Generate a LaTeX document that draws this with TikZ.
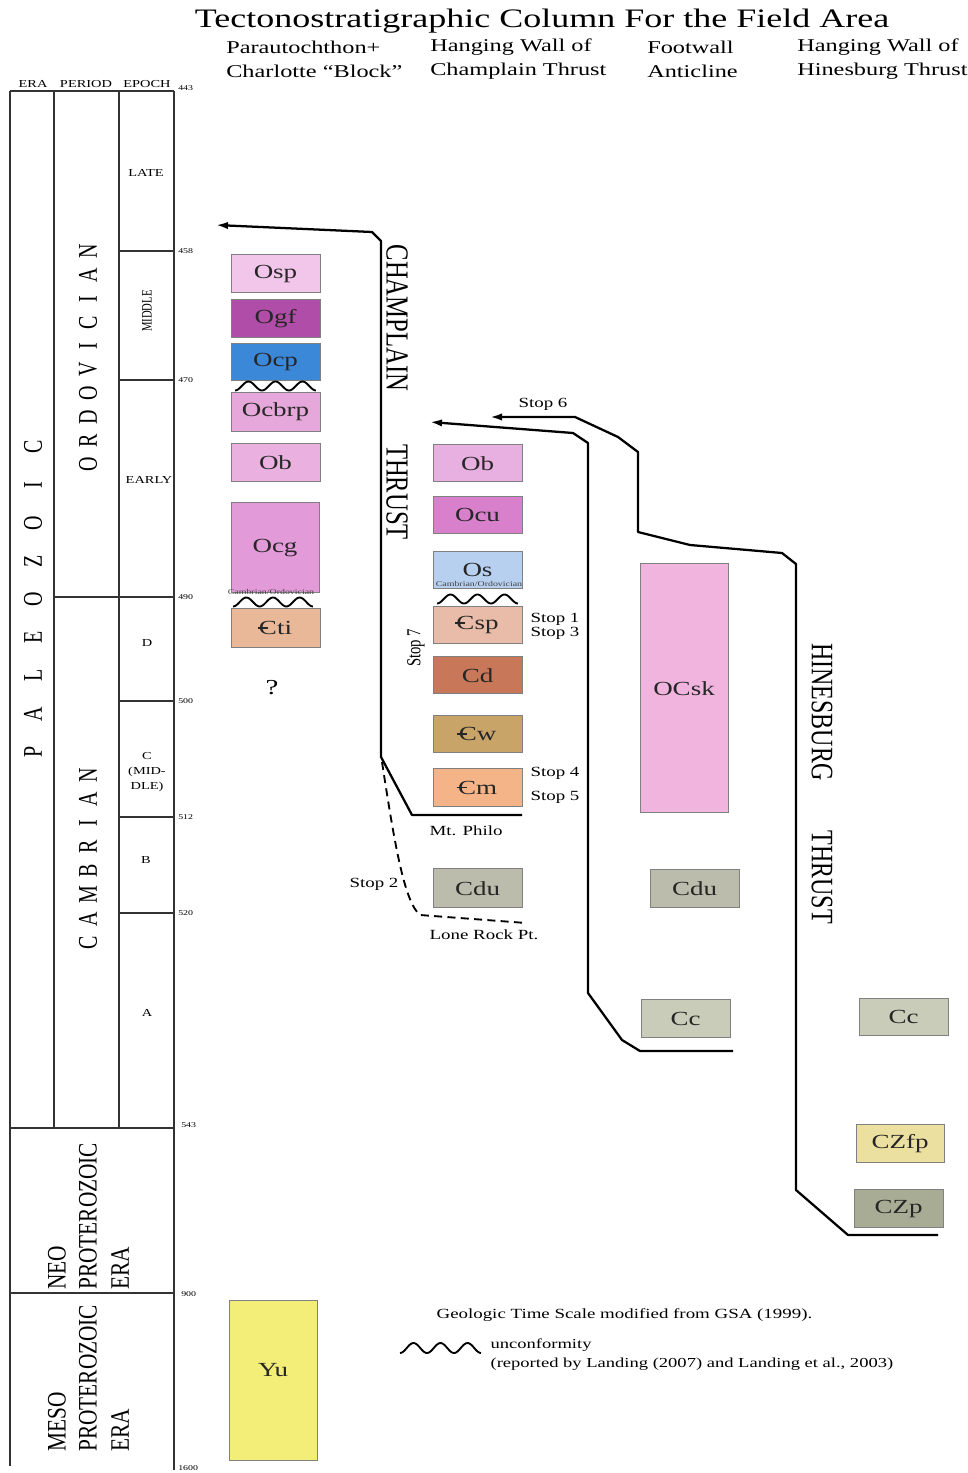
\documentclass[tikz,border=0pt]{standalone}
\usepackage{fontspec}
\usepackage{graphicx}
\setmainfont{Liberation Serif}[FakeStretch=1.35]
\newfontfamily\rf{Liberation Serif}
\usetikzlibrary{arrows.meta,fit}
\definecolor{cOsp}{HTML}{F2C6EA}
\definecolor{cOgf}{HTML}{B04DA8}
\definecolor{cOcp}{HTML}{3C88D8}
\definecolor{cOcbrp}{HTML}{E6A8DA}
\definecolor{cObA}{HTML}{EAB0E0}
\definecolor{cOcg}{HTML}{E29AD8}
\definecolor{cCti}{HTML}{E8B898}
\definecolor{cObB}{HTML}{E8B0E0}
\definecolor{cOcu}{HTML}{D880CC}
\definecolor{cOs}{HTML}{B8D0F0}
\definecolor{cCsp}{HTML}{E8BCA8}
\definecolor{cCd}{HTML}{C87858}
\definecolor{cCw}{HTML}{C8A468}
\definecolor{cCm}{HTML}{F4B488}
\definecolor{cCdu}{HTML}{BCBCAC}
\definecolor{cOCsk}{HTML}{F0B4DE}
\definecolor{cCc}{HTML}{C8CCB8}
\definecolor{cCZfp}{HTML}{ECE0A0}
\definecolor{cCZp}{HTML}{A8AC94}
\definecolor{cYu}{HTML}{F2EE78}
\newcommand\Cb{\makebox[0pt][l]{\kern-0.07em\rule[0.3em]{0.5em}{0.07em}}C}
\newcommand\ubox[7]{\node[unit, fill=#6, fit={(#2,#3) (#4,#5)}] (#1) {};
  \node[ulabel] (#1l) at (#1.center) {#7};}
\newcommand\wave[5]{\draw[wavy] plot[domain=0:1,samples=60,smooth] ({#1+(#2-#1)*\x},{#3+#5*cos(#4*360*\x)});}
\begin{document}
\begin{tikzpicture}[x=0.75pt,y=-0.75pt,
  unit/.style={draw=black!50, line width=0.5pt, inner sep=0pt},
  ulabel/.style={inner sep=0pt, text=black!85, font=\fontsize{15}{16}\selectfont, yshift=-0.5pt},
  tsline/.style={draw=black!80, line width=0.9pt},
  thrust/.style={draw=black, line width=1.7pt, line join=round},
  tip/.style={-{Latex[length=9pt,width=5.5pt]}},
  wavy/.style={draw=black, line width=1.4pt},
  small/.style={font=\fontsize{10.5}{12}\selectfont, inner sep=1pt},
  tick/.style={font=\fontsize{5.5}{6}\selectfont, anchor=west, inner sep=0pt},
  epo/.style={font=\fontsize{8}{9}\selectfont, inner sep=0pt},
  rot/.style={font=\rf\fontsize{#1}{#1}\selectfont, inner sep=0pt},
  tiny/.style={font=\fontsize{5.5}{6}\selectfont, inner sep=0pt, text=black!75}]
\useasboundingbox (0,0) rectangle (967,1473);

% ---------- headings ----------
\node[font=\fontsize{20}{22}\selectfont] (title) at (542,21) {Tectonostratigraphic Column For the Field Area};
\begin{scope}[every node/.style={font=\fontsize{13.5}{15}\selectfont, anchor=west, inner sep=0pt}]
\node (h1a) at (226,47) {Parautochthon+};
\node (h1b) at (226,71) {Charlotte “Block”};
\node (h2a) at (430,47) {Hanging Wall of};
\node (h2b) at (430,71) {Champlain Thrust};
\node (h3a) at (647,47) {Footwall};
\node (h3b) at (647,71) {Anticline};
\node (h4a) at (797,47) {Hanging Wall of};
\node (h4b) at (797,71) {Hinesburg Thrust};
\end{scope}

% ---------- time scale ----------
\node[epo] (hera) at (33,84) {ERA};
\node[epo] (hper) at (86,84) {PERIOD};
\node[epo] (hepo) at (147,84) {EPOCH};
\draw[tsline] (10,91) -- (174,91);
\draw[tsline] (10,91) -- (10,1466);
\draw[tsline] (174,91) -- (174,1470);
\draw[tsline] (54,91) -- (54,1128);
\draw[tsline] (119,91) -- (119,1128);
\draw[tsline] (10,1128) -- (174,1128);
\draw[tsline] (10,1293) -- (174,1293);
\draw[tsline] (54,597) -- (174,597);
\foreach \yy in {251,380,701,817,913} \draw[tsline] (119,\yy) -- (174,\yy);
\node[tick] (t443) at (178,88) {443};
\node[tick] (t458) at (178,251) {458};
\node[tick] (t470) at (178,380) {470};
\node[tick] (t490) at (178,597) {490};
\node[tick] (t500) at (178,701) {500};
\node[tick] (t512) at (178,817) {512};
\node[tick] (t520) at (178,913) {520};
\node[tick] (t543) at (181,1125) {543};
\node[tick] (t900) at (181,1294) {900};
\node[tick] (t1600) at (178,1468) {1600};

\node[epo] (eLate) at (146,173) {LATE};
\node[epo, rotate=90, font=\rf\fontsize{8}{9}\selectfont] (eMid) at (147,311) {\scalebox{1}[1.35]{MIDDLE}};
\node[epo] (eEarly) at (149,480) {EARLY};
\node[epo] (eD) at (147,643) {D};
\node[epo, align=center, font=\fontsize{8}{11}\selectfont] (eC) at (147,772) {C\\(MID-\\DLE)};
\node[epo] (eB) at (146,860) {B};
\node[epo] (eA) at (147,1013) {A};

\foreach \l [count=\i from 0] in {P,A,L,E,O,Z,O,I,C}
  \node[rot=15, rotate=90] (pal\i) at (33,{752-38.1*\i}) {\scalebox{1}[1.35]{\l}};
\foreach \l [count=\i from 0] in {O,R,D,O,V,I,C,I,A,N}
  \node[rot=15, rotate=90] (ord\i) at (88,{464-23.6*\i}) {\scalebox{1}[1.35]{\l}};
\foreach \l [count=\i from 0] in {C,A,M,B,R,I,A,N}
  \node[rot=15, rotate=90] (cam\i) at (88,{943-24*\i}) {\scalebox{1}[1.35]{\l}};

\node[rot=16, rotate=90, anchor=west] (neo1) at (57,1290) {\scalebox{1}[1.25]{NEO}};
\node[rot=16, rotate=90, anchor=west] (neo2) at (88,1290) {\scalebox{1}[1.25]{PROTEROZOIC}};
\node[rot=16, rotate=90, anchor=west] (neo3) at (120,1290) {\scalebox{1}[1.25]{ERA}};
\node[rot=16, rotate=90, anchor=west] (meso1) at (57,1452) {\scalebox{1}[1.25]{MESO}};
\node[rot=16, rotate=90, anchor=west] (meso2) at (88,1452) {\scalebox{1}[1.25]{PROTEROZOIC}};
\node[rot=16, rotate=90, anchor=west] (meso3) at (120,1452) {\scalebox{1}[1.25]{ERA}};

% ---------- column 1 ----------
\ubox{Osp}{231}{254}{320}{292}{cOsp}{Osp}
\ubox{Ogf}{231}{299}{320}{337}{cOgf}{Ogf}
\ubox{Ocp}{231}{343}{320}{380}{cOcp}{Ocp}
\wave{235}{316}{386}{3}{4.5}
\ubox{Ocbrp}{231}{392}{320}{431}{cOcbrp}{Ocbrp}
\ubox{ObA}{231}{443}{320}{481}{cObA}{Ob}
\ubox{Ocg}{231}{502}{319}{592}{cOcg}{Ocg}
\node[tiny] (co1) at (271,592) {Cambrian/Ordovician};
\wave{233}{313}{602}{3}{4.5}
\ubox{Cti}{231}{608}{320}{647}{cCti}{\Cb ti}
\node[font=\fontsize{16}{18}\selectfont] (qm) at (272,688) {?};
\node[unit, fill=cYu, fit={(229,1300) (317,1460)}] (Yu) {};
\node[ulabel] (Yul) at (273,1369) {Yu};

% ---------- column 2 ----------
\ubox{ObB}{433}{444}{522}{481}{cObB}{Ob}
\ubox{Ocu}{433}{496}{522}{533}{cOcu}{Ocu}
\ubox{Os}{433}{551}{522}{588}{cOs}{Os}
\node[tiny] (co2) at (479,584) {Cambrian/Ordovician};
\wave{437}{518}{599}{3}{4.5}
\ubox{Csp}{433}{606}{522}{643}{cCsp}{\Cb sp}
\ubox{Cd}{433}{656}{522}{693}{cCd}{Cd}
\ubox{Cw}{433}{715}{522}{752}{cCw}{\Cb w}
\ubox{Cm}{433}{768}{522}{806}{cCm}{\Cb m}
\ubox{CduA}{433}{868}{522}{907}{cCdu}{Cdu}

% ---------- column 3 ----------
\ubox{OCsk}{640}{563}{728}{812}{cOCsk}{OCsk}
\ubox{CduB}{650}{869}{739}{907}{cCdu}{Cdu}
\ubox{CcA}{641}{999}{730}{1037}{cCc}{Cc}

% ---------- column 4 ----------
\ubox{CcB}{859}{998}{948}{1035}{cCc}{Cc}
\ubox{CZfp}{856}{1124}{944}{1162}{cCZfp}{CZfp}
\ubox{CZp}{854}{1189}{943}{1227}{cCZp}{CZp}

% ---------- thrusts ----------
\coordinate (chE) at (522,815);
\coordinate (chA) at (216,225);
\draw[thrust, tip] (chE) -- (412,815) -- (381,757) -- (381,241) -- (372,232) -- (chA);
\coordinate (lrS) at (382,762);
\coordinate (lrE) at (526,923);
\draw[thrust, line width=1.4pt, dash pattern=on 6pt off 4pt] (lrS) .. controls (394,840) and (404,902) .. (420,915) -- (lrE);
\coordinate (fwE) at (733,1051);
\coordinate (fwA) at (430,422);
\draw[thrust, tip] (fwE) -- (640,1051) -- (622,1040) -- (588,993) -- (588,443) -- (573,433) -- (fwA);
\coordinate (hbE) at (938,1235);
\coordinate (hbA) at (490,417);
\draw[thrust, tip] (hbE) -- (848,1235) -- (796,1190) -- (796,564) -- (782,553) -- (690,545) -- (638,532) -- (638,452) -- (618,437) -- (575,417) -- (hbA);

\node[rot=18.5, rotate=-90] (champ) at (397,318) {\scalebox{1}[1.3]{CHAMPLAIN}};
\node[rot=18.5, rotate=-90] (thr1) at (397,492) {\scalebox{1}[1.3]{THRUST}};
\node[rot=18, rotate=-90] (hines) at (822,712) {\scalebox{1}[1.3]{HINESBURG}};
\node[rot=18, rotate=-90] (thr2) at (822,877) {\scalebox{1}[1.3]{THRUST}};

% ---------- stop labels ----------
\node[small] (s6) at (543,404) {Stop 6};
\node[small, anchor=west] (s1) at (529,619) {Stop 1};
\node[small, anchor=west] (s3) at (529,633) {Stop 3};
\node[small, rotate=90, font=\rf\fontsize{11}{12}\selectfont] (s7) at (416,648) {\scalebox{1}[1.35]{Stop 7}};
\node[small, anchor=west] (s4) at (529,773) {Stop 4};
\node[small, anchor=west] (s5) at (529,797) {Stop 5};
\node[small] (mtp) at (466,831) {Mt. Philo};
\node[small, anchor=east] (s2) at (400,884) {Stop 2};
\node[small] (lrp) at (484,935) {Lone Rock Pt.};

% ---------- legend ----------
\node[small, anchor=west] (gsa) at (435,1315) {Geologic Time Scale modified from GSA (1999).};
\wave{400}{481}{1348}{3}{5}
\node[small, anchor=west, font=\fontsize{10.3}{12}\selectfont] (unc) at (489,1345) {unconformity};
\node[small, anchor=west, font=\fontsize{10.3}{12}\selectfont] (rep) at (489,1364) {(reported by Landing (2007) and Landing et al., 2003)};
\end{tikzpicture}
\end{document}
